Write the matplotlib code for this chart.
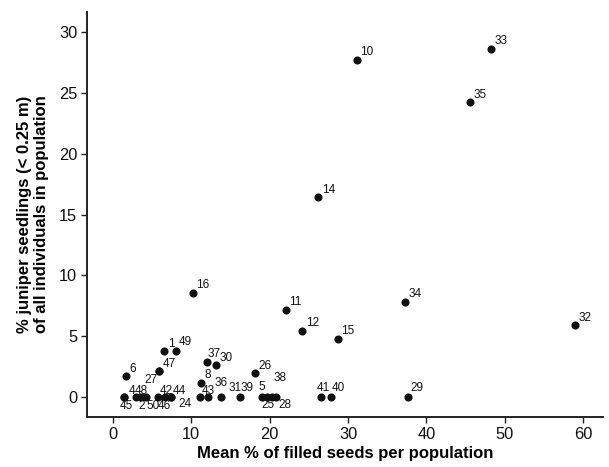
import matplotlib
matplotlib.use("Agg")
import matplotlib.pyplot as plt

plt.rcParams['font.family'] = ['Liberation Sans', 'DejaVu Sans']

# population id, mean % filled seeds, % juniper seedlings
pop_ids = ['10', '33', '35', '14', '16', '11', '12', '15', '34', '32',
           '6', '47', '27', '1', '49', '37', '30', '26', '8',
           '45', '4', '2', '48', '50', '46', '42', '44', '24',
           '43', '36', '31', '39', '5', '25', '38', '28', '41', '40', '29']
filled_seeds = [31.1, 48.2, 45.6, 26.2, 10.2, 22.1, 24.2, 28.7, 37.3, 59.0,
                1.7, 5.9, 5.9, 6.6, 8.1, 12.0, 13.2, 18.1, 11.2,
                1.4, 1.4, 3.0, 3.6, 4.3, 5.8, 6.7, 7.4, 7.4,
                11.1, 12.2, 13.8, 16.2, 19.1, 19.7, 20.3, 20.8, 26.5, 27.8, 37.6]
seedlings = [27.7, 28.6, 24.2, 16.4, 8.6, 7.2, 5.45, 4.8, 7.85, 5.93,
             1.75, 2.15, 2.15, 3.78, 3.78, 2.87, 2.65, 2.0, 1.2,
             0, 0, 0, 0, 0, 0, 0, 0, 0,
             0, 0, 0, 0, 0, 0, 0, 0, 0, 0, 0]

# label offsets (pixels: left edge, vertical centre) where not the default
default_off = (3.5, 7.5)
label_off = {
    '45': (-4, -9), '4': (5, 6), '2': (2, -9), '48': (-6, 6), '50': (0, -9),
    '46': (0, -9), '42': (-5.5, 6), '44': (1.5, 6), '24': (8, -7),
    '43': (2, 6), '36': (6.5, 14), '31': (7.5, 9), '39': (0.5, 9),
    '5': (-3.5, 10), '25': (-6, -8), '38': (2, 19.5), '28': (3, -8),
    '41': (-4, 9), '40': (0.5, 9), '29': (3, 9), '27': (-15, -9),
    '37': (1, 8.3), '49': (2.7, 9),
}

fig = plt.figure(figsize=(6.09, 4.67), dpi=100)
ax = fig.add_axes([0.143, 0.107, 0.847, 0.867])

ax.scatter(filled_seeds, seedlings, s=34, color='#111111', zorder=3, linewidths=0)

for pid, x, y in zip(pop_ids, filled_seeds, seedlings):
    dx, dy = label_off.get(pid, default_off)
    ax.annotate(pid, (x, y), xytext=(dx, dy), textcoords='offset pixels',
                ha='left', va='center', fontsize=8.5, color='#111111')

ax.set_xlim(-3.26, 62.5)
ax.set_ylim(-1.61, 31.6)
ax.set_xticks([0, 10, 20, 30, 40, 50, 60])
ax.set_yticks([0, 5, 10, 15, 20, 25, 30])

for side in ['top', 'right']:
    ax.spines[side].set_visible(False)
for side in ['left', 'bottom']:
    ax.spines[side].set_linewidth(1.4)
    ax.spines[side].set_color('#222222')

ax.tick_params(axis='both', direction='out', length=4.5, width=1,
               color='#222222', labelsize=11.8, labelcolor='#111111', pad=2.5)

ax.set_xlabel('Mean % of filled seeds per population', fontsize=12,
              fontweight='bold', labelpad=3)
ax.set_ylabel('% juniper seedlings (< 0.25 m)\nof all individuals in population',
              fontsize=12, fontweight='bold', labelpad=7, linespacing=1.15)

fig.savefig('out.png', dpi=100)
